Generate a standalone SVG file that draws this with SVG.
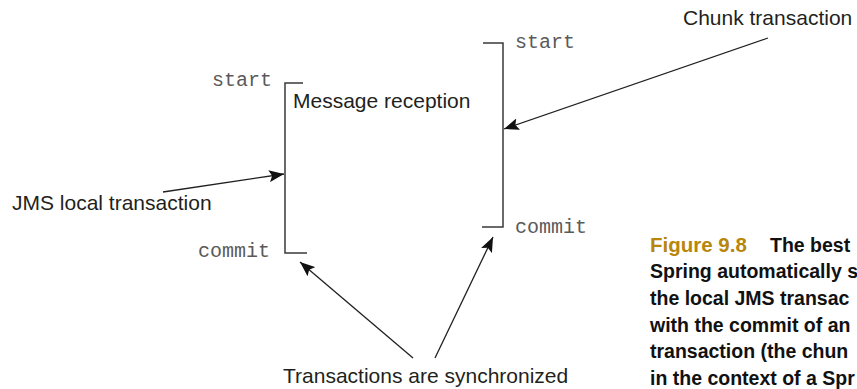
<svg xmlns="http://www.w3.org/2000/svg" width="857" height="389" viewBox="0 0 857 389">
<style>
.lbl{font-family:"Liberation Sans",Arial,sans-serif;font-size:21px;fill:#231f20}
.mono{font-family:"Liberation Mono","Courier New",monospace;font-size:20px;fill:#5a5a5a}
.br{fill:none;stroke:#3a3a3a;stroke-width:1.5}
.con{fill:none;stroke:#231f20;stroke-width:1.3}
.cap{font-family:"Liberation Sans",Arial,sans-serif;font-size:19.5px;font-weight:bold;fill:#111}
.fig{fill:#b8860b;font-size:20.5px}
</style>
<defs>
<marker id="ah" markerUnits="userSpaceOnUse" markerWidth="16" markerHeight="12" viewBox="0 0 16 12" refX="15" refY="6" orient="auto">
<path d="M0,0 L15,6 L0,12 L3,6 z" fill="#111"/>
</marker>
</defs>
<rect width="857" height="389" fill="#fff"/>
<g id="message-reception">
<path class="br" d="M303,83 H285 V253 H307"/>
<text class="mono" x="212" y="86">start</text>
<text class="mono" x="198" y="257">commit</text>
<text class="lbl" x="293" y="108">Message reception</text>
</g>
<g id="chunk-bracket">
<path class="br" d="M483,43 H503 V227 H482"/>
<text class="mono" x="515" y="48">start</text>
<text class="mono" x="515" y="233">commit</text>
</g>
<g id="jms-label">
<text class="lbl" x="12" y="210">JMS local transaction</text>
</g>
<g id="chunk-label">
<text class="lbl" x="683" y="25">Chunk transaction</text>
</g>
<g id="sync-label">
<text class="lbl" x="283" y="383">Transactions are synchronized</text>
</g>
<g id="connectors">
<line class="con" x1="163" y1="192" x2="284" y2="174" marker-end="url(#ah)"/>
<line class="con" x1="768" y1="38" x2="504" y2="129" marker-end="url(#ah)"/>
<line class="con" x1="413" y1="358" x2="300" y2="262" marker-end="url(#ah)"/>
<line class="con" x1="435" y1="358" x2="493" y2="237" marker-end="url(#ah)"/>
</g>
<g id="caption">
<text class="cap" x="650" y="252"><tspan class="fig">Figure 9.8</tspan><tspan x="770">The best</tspan></text>
<text class="cap" x="650" y="278">Spring automatically s</text>
<text class="cap" x="650" y="305">the local JMS transac</text>
<text class="cap" x="650" y="332">with the commit of an</text>
<text class="cap" x="650" y="358">transaction (the chun</text>
<text class="cap" x="650" y="385">in the context of a Spr</text>
</g>
</svg>
